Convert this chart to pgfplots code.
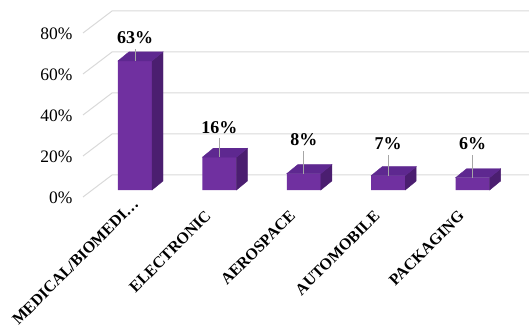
\documentclass[border=0pt]{standalone}
\usepackage{pgfplots}
\pgfplotsset{compat=1.18}
\usepackage{pgfplotstable}
\usepackage{fontspec}
\setmainfont{Liberation Serif}

\definecolor{barfront}{HTML}{7030A0}
\definecolor{bartop}{HTML}{5E2890}
\definecolor{barside}{HTML}{4B1E70}
\definecolor{gridc}{HTML}{D9D9D9}
\definecolor{leader}{HTML}{A6A6A6}

% share of applications (percent); off = height of the value label above the bar
\pgfplotstableread{
x y  off
0 63 23
1 16 30
2 8  34
3 7  32
4 6  34
}\shares

\pgfdeclareplotmark{blank}{}

\begin{document}
\begin{tikzpicture}
\begin{axis}[
  x=84.4pt, y=2.05pt,
  xmin=-0.7, xmax=4.668, ymin=0, ymax=87.32,
  clip=false,
  axis line style={draw=none},
  major tick length=0pt,
  tick style={draw=none},
  /pgf/number format/assume math mode=true,
  xtick={1,2,3,4},
  xticklabels={ELECTRONIC,AEROSPACE,AUTOMOBILE,PACKAGING},
  % shifts act along and across the rotated text
  xticklabel style={rotate=45, anchor=east, font=\fontsize{16}{18}\selectfont\bfseries,
    xshift=-21pt, yshift=-8.5pt},
  extra x ticks={0},
  extra x tick labels={MEDICAL/BIOMEDI…},
  extra x tick style={xticklabel style={xshift=17pt}},
  ytick={0,20,40,60,80},
  yticklabels={0\%,20\%,40\%,60\%,80\%},
  yticklabel style={font=\fontsize{17.5}{20}\selectfont, yshift=-7.5pt},
]
% back wall and side wall gridlines
\pgfplotsinvokeforeach{0,20,40,60,80}{
  \draw[gridc, line width=1pt] (axis cs:-0.616,{#1-3.41}) -- (axis cs:-0.2725,{#1+7.32})
    -- (axis cs:4.668,{#1+7.32});
}
% front faces with value labels
\addplot[ybar, bar width=0.403, fill=barfront, draw=none,
  point meta=y,
  visualization depends on={\thisrow{off}\as\labeloff},
  nodes near coords={\pgfmathprintnumber{\pgfplotspointmeta}\%},
  every node near coord/.append style={anchor=center, yshift=\labeloff,
    font=\fontsize{18}{20}\selectfont\bfseries, text=black},
] table[x=x, y=y] {\shares};
% side and top faces plus leader lines
\addplot[scatter, only marks, mark=blank,
  visualization depends on={\thisrow{y}\as\barval},
  visualization depends on={\thisrow{off}\as\labeloff},
  scatter/@pre marker code/.code={%
    \fill[barside] (17pt,0pt) -- (28pt,9pt) -- (28pt,9pt-\barval*2.05pt) -- (17pt,-\barval*2.05pt) -- cycle;
    \fill[bartop] (-17pt,0pt) -- (17pt,0pt) -- (28pt,9pt) -- (-6pt,9pt) -- cycle;
    \draw[leader, line width=0.8pt] (0pt,0pt) -- (0pt,\labeloff pt-11pt);
  },
  scatter/@post marker code/.code={},
] table[x=x, y=y] {\shares};
\coordinate (bbsw) at (axis cs:-1.5995,-69.27);
\coordinate (bbne) at (axis cs:4.668,92.68);
\end{axis}
\pgfresetboundingbox
\useasboundingbox (bbsw) rectangle (bbne);
\end{tikzpicture}
\end{document}
